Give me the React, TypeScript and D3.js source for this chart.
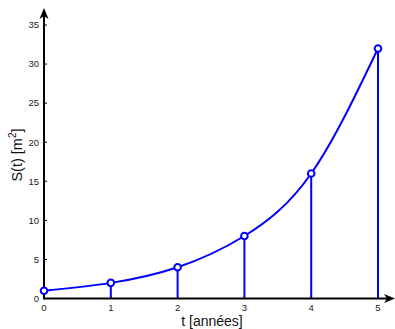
import React from "react";
import * as d3 from "d3";

const years = [0, 1, 2, 3, 4, 5];
const surface = [1, 2, 4, 8, 16, 32];
const yTicks = [0, 5, 10, 15, 20, 25, 30, 35];
const xTicks = [0, 1, 2, 3, 4, 5];

const BLUE = "#0000ff";
const FONT = "'Liberation Sans', Arial, Helvetica, sans-serif";

export default function App() {
  const W = 395;
  const H = 329;
  const x = d3.scaleLinear().domain([0, 5]).range([44, 378]);
  const y = d3.scaleLinear().domain([0, 35]).range([298.5, 25]);

  const pts: [number, number][] = years.map((t, i) => [x(t), y(surface[i])]);
  const line = d3.line().curve(d3.curveNatural)(pts) || "";

  return (
    <svg
      width={W}
      height={H}
      style={{ position: "absolute", left: 0, top: 0, background: "#fff" }}
      fontFamily={FONT}
    >
      {/* y ticks and labels */}
      {yTicks.map((v) => (
        <g key={"y" + v}>
          <line x1={x(0)} x2={x(0) + 3} y1={y(v)} y2={y(v)} stroke="#000" strokeWidth={1} />
          <text x={39} y={y(v)} dy="0.35em" textAnchor="end" fontSize={9.5} fill="#222">
            {v}
          </text>
        </g>
      ))}
      {/* x ticks and labels */}
      {xTicks.map((v) => (
        <g key={"x" + v}>
          <line x1={x(v)} x2={x(v)} y1={y(0)} y2={y(0) - 3} stroke="#000" strokeWidth={1} />
          <text x={x(v)} y={310.5} textAnchor="middle" fontSize={9.5} fill="#222">
            {v}
          </text>
        </g>
      ))}

      {/* stems */}
      {years.map((t, i) => (
        <line
          key={"s" + t}
          x1={x(t)}
          x2={x(t)}
          y1={y(0)}
          y2={y(surface[i])}
          stroke={BLUE}
          strokeWidth={2}
        />
      ))}

      {/* smooth curve through the points */}
      <path d={line} fill="none" stroke={BLUE} strokeWidth={2} />

      {/* axes with arrowheads */}
      <line x1={x(0)} x2={388} y1={y(0)} y2={y(0)} stroke="#000" strokeWidth={2} />
      <path
        d={`M395,${y(0)} L384,${y(0) - 4.5} L387,${y(0)} L384,${y(0) + 4.5} Z`}
        fill="#000"
      />
      <line x1={x(0)} x2={x(0)} y1={y(0) + 1} y2={16} stroke="#000" strokeWidth={2} />
      <path d={`M${x(0)},8 L${x(0) - 4.5},19 L${x(0)},16 L${x(0) + 4.5},19 Z`} fill="#000" />

      {/* markers */}
      {years.map((t, i) => (
        <circle
          key={"m" + t}
          cx={x(t)}
          cy={y(surface[i])}
          r={3.3}
          fill="#fff"
          stroke={BLUE}
          strokeWidth={2}
        />
      ))}

      {/* axis titles */}
      <text x={212} y={326} textAnchor="middle" fontSize={14} fill="#111">
        t [années]
      </text>
      <text
        transform={`translate(22,${155}) rotate(-90)`}
        textAnchor="middle"
        fontSize={14.5}
        fill="#111"
      >
        S(t) [m<tspan dy={-6} fontSize={10}>2</tspan>
        <tspan dy={6}>]</tspan>
      </text>
    </svg>
  );
}
